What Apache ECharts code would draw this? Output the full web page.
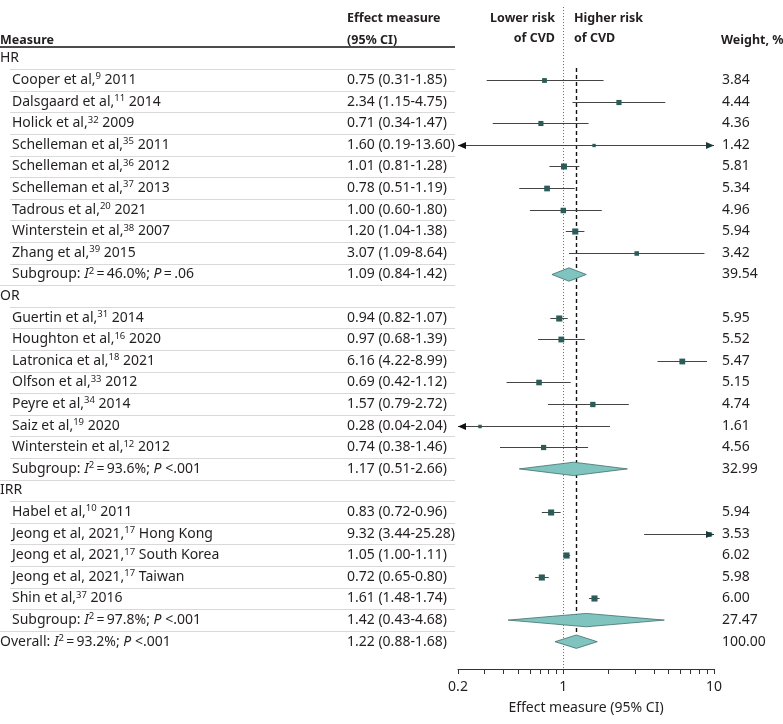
<!DOCTYPE html>
<html><head><meta charset="utf-8">
<script src="https://cdn.jsdelivr.net/npm/echarts@6/dist/echarts.min.js"></script>
<style>html,body{margin:0;padding:0;background:#fff}#c{width:783px;height:724px}</style>
</head><body><div id="c"></div><script>
const FONT_FAMILY = '"Noto Sans"';
const TEXT_COLOR = '#231f20';
const BODY_SIZE = 14;
const HEAD_SIZE = 12.5;

const rowLabels = [
  'HR',
  'Cooper et al,{sup|9} 2011',
  'Dalsgaard et al,{sup|11} 2014',
  'Holick et al,{sup|32} 2009',
  'Schelleman et al,{sup|35} 2011',
  'Schelleman et al,{sup|36} 2012',
  'Schelleman et al,{sup|37} 2013',
  'Tadrous et al,{sup|20} 2021',
  'Winterstein et al,{sup|38} 2007',
  'Zhang et al,{sup|39} 2015',
  'Subgroup: {it|I}{sup|2}\u2009=\u200946.0%; {it|P}\u2009=\u2009.06',
  'OR',
  'Guertin et al,{sup|31} 2014',
  'Houghton et al,{sup|16} 2020',
  'Latronica et al,{sup|18} 2021',
  'Olfson et al,{sup|33} 2012',
  'Peyre et al,{sup|34} 2014',
  'Saiz et al,{sup|19} 2020',
  'Winterstein et al,{sup|12} 2012',
  'Subgroup: {it|I}{sup|2}\u2009=\u200993.6%; {it|P} <.001',
  'IRR',
  'Habel et al,{sup|10} 2011',
  'Jeong et al, 2021,{sup|17} Hong Kong',
  'Jeong et al, 2021,{sup|17} South Korea',
  'Jeong et al, 2021,{sup|17} Taiwan',
  'Shin et al,{sup|37} 2016',
  'Subgroup: {it|I}{sup|2}\u2009=\u200997.8%; {it|P} <.001',
  'Overall: {it|I}{sup|2}\u2009=\u200993.2%; {it|P} <.001'
];
const rowKinds = ['cat','study','study','study','study','study','study','study','study','study','sub',
  'cat','study','study','study','study','study','study','study','sub',
  'cat','study','study','study','study','study','sub','overall'];
const estimates = [null,0.75,2.34,0.71,1.60,1.01,0.78,1.00,1.20,3.07,1.09,
  null,0.94,0.97,6.16,0.69,1.57,0.28,0.74,1.17,
  null,0.83,9.32,1.05,0.72,1.61,1.42,1.22];
const lowers = [null,0.31,1.15,0.34,0.19,0.81,0.51,0.60,1.04,1.09,0.84,
  null,0.82,0.68,4.22,0.42,0.79,0.04,0.38,0.51,
  null,0.72,3.44,1.00,0.65,1.48,0.43,0.88];
const uppers = [null,1.85,4.75,1.47,13.60,1.28,1.19,1.80,1.38,8.64,1.42,
  null,1.07,1.39,8.99,1.12,2.72,2.04,1.46,2.66,
  null,0.96,25.28,1.11,0.80,1.74,4.68,1.68];
const weights = [null,3.84,4.44,4.36,1.42,5.81,5.34,4.96,5.94,3.42,39.54,
  null,5.95,5.52,5.47,5.15,4.74,1.61,4.56,32.99,
  null,5.94,3.53,6.02,5.98,6.00,27.47,100.00];

const X_MIN = 0.2, X_MAX = 10;
const xTickValues = [0.2,0.3,0.4,0.5,0.6,0.7,0.8,0.9,1,2,3,4,5,6,7,8,9,10];
const xLabelValues = [0.2,1,10];
const nullEffect = 1;
const overallEffect = 1.22;

const font = (size, weight) => `${weight||'normal'} ${size}px ${FONT_FAMILY}`;
const rich = {
  sup: {fontSize: 9.5, fontFamily: FONT_FAMILY, verticalAlign: 'top', lineHeight: 10, color: TEXT_COLOR},
  it: {fontSize: BODY_SIZE, fontFamily: FONT_FAMILY, fontStyle: 'italic', lineHeight: 17, color: TEXT_COLOR}
};

function renderTable(params, api) {
  const i = api.value(0);
  const y = api.coord([1, i])[1];
  const step = api.size([0, 1])[1];
  const kind = rowKinds[i];
  const indent = (kind === 'study' || kind === 'sub') ? 12 : 0;
  const children = [{
    type: 'text', x: indent, y: y,
    style: {text: rowLabels[i], font: font(BODY_SIZE), fill: TEXT_COLOR, verticalAlign: 'middle', align: 'left', lineHeight: 17, rich: rich}
  }];
  if (estimates[i] != null) {
    children.push({type: 'text', x: 347, y: y, style: {
      text: `${estimates[i].toFixed(2)} (${lowers[i].toFixed(2)}-${uppers[i].toFixed(2)})`,
      font: font(BODY_SIZE), fill: TEXT_COLOR, verticalAlign: 'middle', align: 'left'}});
    children.push({type: 'text', x: 722, y: y, style: {
      text: weights[i].toFixed(2), font: font(BODY_SIZE), fill: TEXT_COLOR, verticalAlign: 'middle', align: 'left'}});
  }
  if (i < rowLabels.length - 1) {
    const next = rowKinds[i + 1];
    const x0 = (next === 'cat' || next === 'overall') ? 0 : 10;
    const ly = Math.round(y + step / 2) + 0.5;
    children.push({type: 'line', shape: {x1: x0, y1: ly, x2: 455, y2: ly}, style: {stroke: '#d9d9d9', lineWidth: 1}});
  }
  return {type: 'group', children: children};
}

function renderForest(params, api) {
  const i = api.value(0);
  const est = api.value(1), lo = api.value(2), hi = api.value(3), w = api.value(4);
  const kind = rowKinds[i];
  const clamp = v => Math.min(Math.max(v, X_MIN), X_MAX);
  const yc = api.coord([1, i])[1];
  const xl = api.coord([clamp(lo), i])[0];
  const xh = api.coord([clamp(hi), i])[0];
  const xe = api.coord([clamp(est), i])[0];
  const children = [];
  if (kind === 'study') {
    const yy = Math.round(yc) + 0.5;
    children.push({type: 'line', shape: {x1: xl, y1: yy, x2: xh, y2: yy}, style: {stroke: '#444', lineWidth: 1}});
    const s = 2.5 + w * 0.6;
    if (est >= X_MIN && est <= X_MAX) {
      children.push({type: 'rect', shape: {x: xe - s / 2, y: yy - s / 2, width: s, height: s}, style: {fill: '#2b5c59'}});
    }
    if (lo < X_MIN) {
      children.push({type: 'polygon', shape: {points: [[xl, yy], [xl + 8, yy - 3.5], [xl + 8, yy + 3.5]]}, style: {fill: '#111'}});
    }
    if (hi > X_MAX) {
      children.push({type: 'polygon', shape: {points: [[xh, yy], [xh - 8, yy - 3.5], [xh - 8, yy + 3.5]]}, style: {fill: '#1e3a3a'}});
    }
  } else {
    const h = api.size([0, 1])[1] * 0.31;
    children.push({type: 'polygon', shape: {points: [[xl, yc], [xe, yc - h], [xh, yc], [xe, yc + h]]},
      style: {fill: '#80c4c0', stroke: '#3f6f6c', lineWidth: 0.8}});
  }
  return {type: 'group', children: children};
}

function renderRefLines(params, api) {
  const p1 = api.coord([nullEffect, -2.38]);
  const p2 = api.coord([nullEffect, 28.26]);
  const q1 = api.coord([overallEffect, 0.44]);
  const q2 = api.coord([overallEffect, 26.69]);
  const x1 = Math.round(p1[0]) + 0.5, x2 = Math.round(q1[0]) + 0.5;
  return {type: 'group', children: [
    {type: 'line', shape: {x1: x1, y1: p1[1], x2: x1, y2: p2[1]}, style: {stroke: '#666', lineWidth: 1, lineDash: [1, 2]}},
    {type: 'line', shape: {x1: x2, y1: q1[1], x2: x2, y2: q2[1]}, style: {stroke: '#111', lineWidth: 1.4, lineDash: [4, 3]}}
  ]};
}

const chart = echarts.init(document.getElementById('c'), null, {renderer: 'canvas'});
const tableData = rowLabels.map((_, i) => [i]);
const forestData = [];
estimates.forEach((e, i) => { if (e != null) forestData.push([i, e, lowers[i], uppers[i], weights[i]]); });

const hdr = (text, x, y, align) => ({type: 'text', x: x, y: y,
  style: {text: text, font: font(HEAD_SIZE, 'bold'), fill: TEXT_COLOR, align: align, verticalAlign: 'middle'}});

chart.setOption({
  animation: false,
  backgroundColor: '#fff',
  textStyle: {fontFamily: FONT_FAMILY},
  grid: {left: 458, width: 256, top: 4.5, height: 664.5},
  xAxis: {
    type: 'log', logBase: 10, min: X_MIN, max: X_MAX, position: 'bottom',
    axisLine: {show: true, onZero: false, lineStyle: {color: '#333', width: 1}},
    axisTick: {show: true, length: 5, customValues: xTickValues, lineStyle: {color: '#333'}},
    axisLabel: {customValues: xLabelValues, fontSize: BODY_SIZE, color: TEXT_COLOR, margin: 11, fontFamily: FONT_FAMILY,
      formatter: v => String(v)},
    splitLine: {show: false},
    minorTick: {show: false},
    name: 'Effect measure (95% CI)', nameLocation: 'middle', nameGap: 32,
    nameTextStyle: {fontSize: BODY_SIZE, color: TEXT_COLOR, fontFamily: FONT_FAMILY}
  },
  yAxis: {type: 'value', inverse: true, min: -2.5, max: 28.264, show: false},
  graphic: [
    hdr('Measure', 0, 40, 'left'),
    hdr('Effect measure', 347, 18, 'left'),
    hdr('(95% CI)', 347, 40, 'left'),
    hdr('Lower risk', 555, 18, 'right'),
    hdr('of CVD', 555, 38, 'right'),
    hdr('Higher risk', 574, 18, 'left'),
    hdr('of CVD', 574, 38, 'left'),
    hdr('Weight, %', 721, 40, 'left'),
    {type: 'line', shape: {x1: 0, y1: 47, x2: 455, y2: 47}, style: {stroke: '#111', lineWidth: 1.5}}
  ],
  series: [
    {type: 'custom', renderItem: renderRefLines, data: [[0]], clip: false, silent: true},
    {type: 'custom', renderItem: renderTable, data: tableData, clip: false, silent: true, encode: {y: 0}},
    {type: 'custom', renderItem: renderForest, data: forestData, clip: false, silent: true, encode: {x: 1, y: 0}}
  ]
});
</script></body></html>
